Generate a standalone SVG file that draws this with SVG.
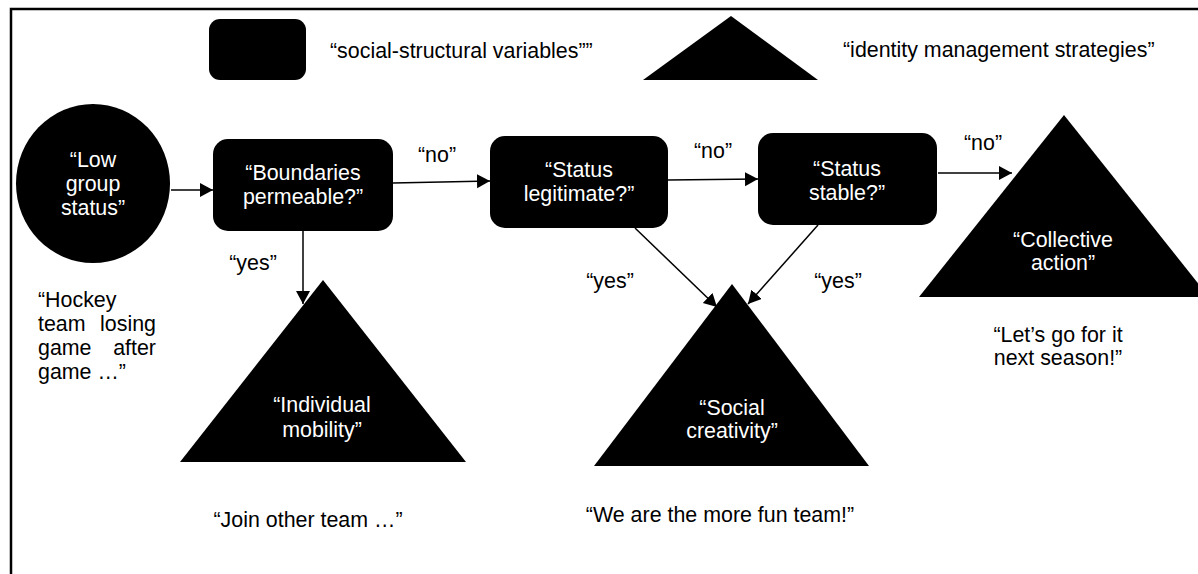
<svg xmlns="http://www.w3.org/2000/svg" width="1198" height="574" viewBox="0 0 1198 574">
  <defs>
    <style>
      text { font-family: "Liberation Sans", Arial, sans-serif; font-size: 21.4px; fill: #000; }
      .w { fill: #fff; }
      .c { text-anchor: middle; }
      .shape { fill: #000; }
      .conn { stroke: #000; stroke-width: 1.5; fill: none; marker-end: url(#arr); }
    </style>
    <marker id="arr" markerUnits="userSpaceOnUse" markerWidth="14" markerHeight="15" refX="13" refY="7" orient="auto">
      <path d="M0,0 L13,7 L0,14 Z" fill="#000"/>
    </marker>
  </defs>
  <rect width="1198" height="574" fill="#fff"/>
  <rect x="11" y="9" width="1200" height="580" fill="none" stroke="#000" stroke-width="2.5"/>

  <g id="legend">
    <rect x="209" y="19" width="97" height="61" rx="11" class="shape"/>
    <text x="330" y="58">“social-structural variables””</text>
    <polygon points="731,16 643,80 818,80" class="shape"/>
    <text x="843" y="57">“identity management strategies”</text>
  </g>

  <g id="connectors">
    <line x1="171" y1="190" x2="213" y2="190" class="conn"/>
    <line x1="393" y1="183" x2="490" y2="181" class="conn"/>
    <line x1="668" y1="180" x2="758" y2="179" class="conn"/>
    <line x1="938" y1="173" x2="1012" y2="173" class="conn"/>
    <line x1="303" y1="231" x2="303" y2="304" class="conn"/>
    <line x1="635" y1="228" x2="717" y2="307" class="conn"/>
    <line x1="818" y1="225" x2="748" y2="304" class="conn"/>
    <text x="437" y="162" class="c">“no”</text>
    <text x="713" y="158" class="c">“no”</text>
    <text x="983" y="150" class="c">“no”</text>
    <text x="253" y="270" class="c">“yes”</text>
    <text x="610" y="288" class="c">“yes”</text>
    <text x="838" y="288" class="c">“yes”</text>
  </g>

  <g id="low-group-status">
    <ellipse cx="93" cy="183.5" rx="77" ry="79.5" class="shape"/>
    <text x="93" y="167" class="c w">“Low</text>
    <text x="93" y="191" class="c w">group</text>
    <text x="93" y="215" class="c w">status”</text>
  </g>

  <g id="hockey-note">
    <text x="38" y="307">“Hockey</text>
    <text x="38" y="331">team</text>
    <text x="156" y="331" text-anchor="end">losing</text>
    <text x="38" y="355">game</text>
    <text x="156" y="355" text-anchor="end">after</text>
    <text x="38" y="379">game …”</text>
  </g>

  <g id="boundaries">
    <rect x="213" y="139" width="180" height="92" rx="15" class="shape"/>
    <text x="303" y="180" class="c w">“Boundaries</text>
    <text x="303" y="204" class="c w">permeable?”</text>
  </g>

  <g id="legitimate">
    <rect x="490" y="136" width="178" height="92" rx="15" class="shape"/>
    <text x="579" y="177" class="c w">“Status</text>
    <text x="579" y="201" class="c w">legitimate?”</text>
  </g>

  <g id="stable">
    <rect x="758" y="133" width="179" height="92" rx="15" class="shape"/>
    <text x="847" y="176" class="c w">“Status</text>
    <text x="847" y="200" class="c w">stable?”</text>
  </g>

  <g id="individual-mobility">
    <polygon points="323,280 180,462 466,462" class="shape"/>
    <text x="322" y="412" class="c w">“Individual</text>
    <text x="322" y="437" class="c w">mobility”</text>
    <text x="308" y="527" class="c">“Join other team …”</text>
  </g>

  <g id="social-creativity">
    <polygon points="732,284 594,466 869,466" class="shape"/>
    <text x="732" y="415" class="c w">“Social</text>
    <text x="732" y="438" class="c w">creativity”</text>
    <text x="720" y="522" class="c">“We are the more fun team!”</text>
  </g>

  <g id="collective-action">
    <polygon points="1064,115 919,297 1209,297" class="shape"/>
    <text x="1063" y="247" class="c w">“Collective</text>
    <text x="1063" y="270" class="c w">action”</text>
    <text x="1058" y="342" class="c">“Let’s go for it</text>
    <text x="1058" y="365" class="c">next season!”</text>
  </g>
</svg>
